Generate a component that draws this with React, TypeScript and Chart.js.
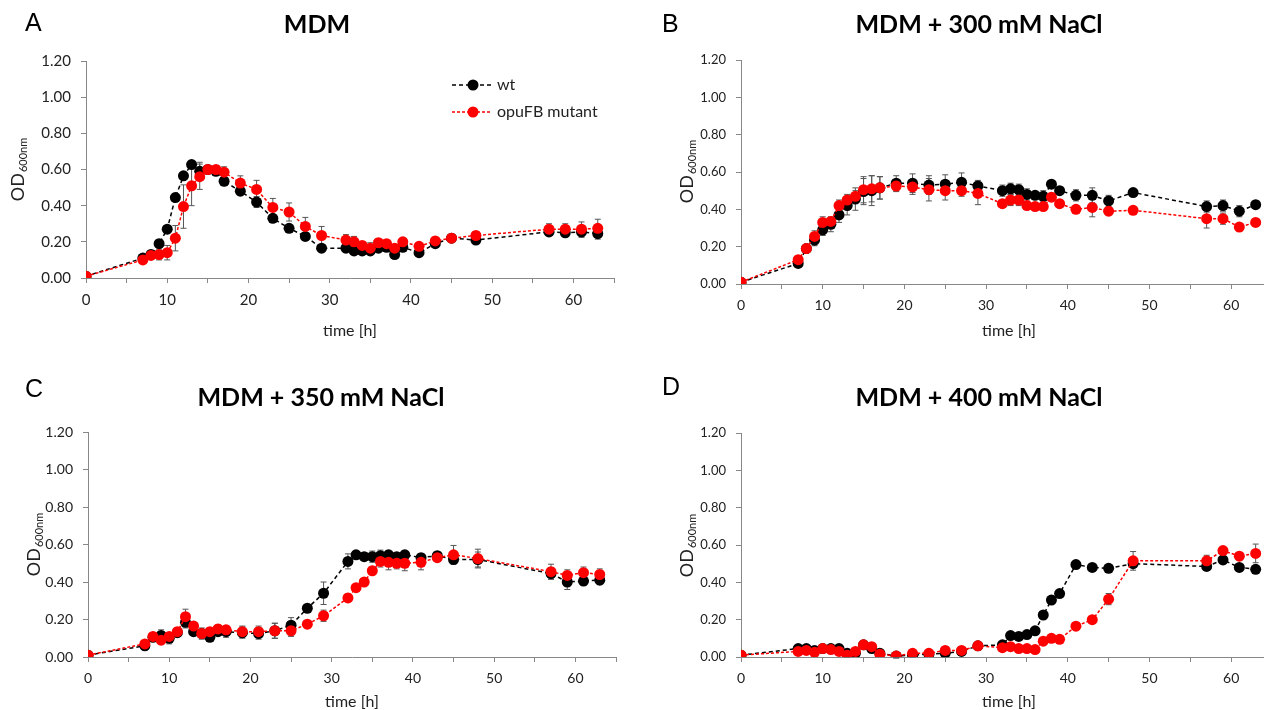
import React, { useEffect, useRef } from "react";
import { Chart, registerables } from "chart.js";
Chart.register(...registerables);

// ---------- data ----------
const times = [0, 7, 8, 9, 10, 11, 12, 13, 14, 15, 16, 17, 19, 21, 23, 25, 27, 29, 32, 33, 34, 35, 36, 37, 38, 39, 41, 43, 45, 48, 57, 59, 61, 63];

const wtA = [0.01, 0.11, 0.13, 0.19, 0.27, 0.445, 0.565, 0.627, 0.59, 0.6, 0.59, 0.535, 0.48, 0.42, 0.33, 0.275, 0.23, 0.165, 0.165, 0.15, 0.15, 0.15, 0.165, 0.17, 0.13, 0.17, 0.14, 0.19, 0.22, 0.21, 0.255, 0.25, 0.255, 0.245];
const wtAErr = [0, 0.01, 0.01, 0.02, 0.02, 0.02, 0.02, 0.02, 0.05, 0.02, 0.02, 0.02, 0.02, 0.03, 0.02, 0.02, 0.02, 0.01, 0.02, 0.02, 0.02, 0.02, 0.01, 0.02, 0.02, 0.01, 0.02, 0.02, 0.01, 0.01, 0.02, 0.02, 0.03, 0.03];
const mutA = [0.01, 0.1, 0.125, 0.13, 0.14, 0.22, 0.395, 0.51, 0.56, 0.6, 0.6, 0.585, 0.525, 0.49, 0.39, 0.365, 0.285, 0.235, 0.21, 0.2, 0.18, 0.165, 0.195, 0.19, 0.165, 0.2, 0.175, 0.205, 0.22, 0.235, 0.27, 0.27, 0.27, 0.275];
const mutAErr = [0, 0.01, 0.02, 0.03, 0.04, 0.07, 0.12, 0.11, 0.07, 0.02, 0.02, 0.03, 0.04, 0.05, 0.05, 0.05, 0.05, 0.05, 0.03, 0.03, 0.02, 0.03, 0.02, 0.02, 0.02, 0.02, 0.02, 0.02, 0.01, 0.02, 0.03, 0.03, 0.04, 0.05];

const wtB = [0.01, 0.11, 0.19, 0.235, 0.29, 0.32, 0.37, 0.42, 0.455, 0.495, 0.5, 0.515, 0.54, 0.54, 0.53, 0.535, 0.545, 0.525, 0.5, 0.51, 0.505, 0.48, 0.475, 0.47, 0.535, 0.5, 0.475, 0.475, 0.445, 0.49, 0.415, 0.42, 0.39, 0.425];
const wtBErr = [0, 0.02, 0.02, 0.03, 0.03, 0.04, 0.04, 0.05, 0.06, 0.07, 0.08, 0.06, 0.04, 0.05, 0.05, 0.05, 0.05, 0.03, 0.03, 0.03, 0.03, 0.03, 0.02, 0.03, 0.02, 0.02, 0.03, 0.04, 0.03, 0.02, 0.03, 0.03, 0.03, 0.02];
const mutB = [0.01, 0.13, 0.19, 0.255, 0.33, 0.335, 0.42, 0.45, 0.47, 0.505, 0.51, 0.515, 0.525, 0.52, 0.505, 0.5, 0.5, 0.485, 0.43, 0.45, 0.45, 0.42, 0.415, 0.415, 0.465, 0.43, 0.4, 0.41, 0.39, 0.395, 0.35, 0.35, 0.305, 0.33];
const mutBErr = [0, 0.02, 0.02, 0.03, 0.03, 0.02, 0.03, 0.03, 0.03, 0.07, 0.07, 0.06, 0.03, 0.04, 0.06, 0.05, 0.03, 0.06, 0.02, 0.03, 0.03, 0.02, 0.02, 0.02, 0.02, 0.02, 0.02, 0.05, 0.02, 0.02, 0.05, 0.03, 0.02, 0.02];

const wtC = [0.01, 0.06, 0.105, 0.115, 0.1, 0.13, 0.185, 0.135, 0.125, 0.105, 0.135, 0.135, 0.13, 0.125, 0.14, 0.17, 0.26, 0.34, 0.51, 0.545, 0.535, 0.535, 0.54, 0.545, 0.535, 0.545, 0.53, 0.54, 0.52, 0.52, 0.445, 0.4, 0.405, 0.41];
const wtCErr = [0, 0.02, 0.02, 0.03, 0.03, 0.02, 0.03, 0.02, 0.03, 0.02, 0.02, 0.03, 0.03, 0.03, 0.04, 0.04, 0.02, 0.06, 0.04, 0.02, 0.02, 0.03, 0.03, 0.02, 0.02, 0.02, 0.02, 0.02, 0.02, 0.04, 0.03, 0.04, 0.02, 0.02];
const mutC = [0.01, 0.07, 0.11, 0.09, 0.11, 0.135, 0.215, 0.165, 0.125, 0.135, 0.15, 0.145, 0.135, 0.135, 0.14, 0.14, 0.175, 0.22, 0.315, 0.37, 0.4, 0.46, 0.51, 0.505, 0.5, 0.5, 0.505, 0.53, 0.545, 0.525, 0.455, 0.435, 0.45, 0.44];
const mutCErr = [0, 0.01, 0.02, 0.02, 0.02, 0.02, 0.04, 0.02, 0.02, 0.02, 0.02, 0.02, 0.03, 0.03, 0.04, 0.03, 0.02, 0.03, 0.02, 0.01, 0.01, 0.02, 0.03, 0.04, 0.03, 0.04, 0.04, 0.02, 0.05, 0.05, 0.04, 0.03, 0.03, 0.03];

const wtD = [0.01, 0.045, 0.045, 0.035, 0.045, 0.045, 0.045, 0.02, 0.02, 0.065, 0.045, 0.02, 0.005, 0.01, 0.015, 0.02, 0.03, 0.06, 0.065, 0.115, 0.11, 0.12, 0.14, 0.225, 0.305, 0.34, 0.495, 0.48, 0.475, 0.5, 0.485, 0.52, 0.48, 0.47];
const wtDErr = [0, 0.01, 0.01, 0.01, 0.01, 0.01, 0.01, 0.01, 0.01, 0.01, 0.01, 0.01, 0.01, 0.01, 0.01, 0.02, 0.01, 0.01, 0.01, 0.01, 0.01, 0.01, 0.01, 0.01, 0.01, 0.01, 0.02, 0.01, 0.01, 0.02, 0.02, 0.02, 0.01, 0.01];
const mutD = [0.01, 0.03, 0.035, 0.025, 0.045, 0.04, 0.03, 0.01, 0.03, 0.065, 0.055, 0.015, 0.005, 0.02, 0.02, 0.035, 0.035, 0.06, 0.05, 0.055, 0.045, 0.045, 0.04, 0.085, 0.1, 0.095, 0.165, 0.2, 0.31, 0.515, 0.515, 0.57, 0.54, 0.555];
const mutDErr = [0, 0.01, 0.01, 0.01, 0.01, 0.01, 0.01, 0.01, 0.01, 0.01, 0.01, 0.01, 0.01, 0.01, 0.01, 0.01, 0.01, 0.01, 0.01, 0.01, 0.01, 0.01, 0.01, 0.01, 0.01, 0.01, 0.01, 0.01, 0.03, 0.05, 0.03, 0.02, 0.02, 0.05];

const yTickLabels = ["0.00", "0.20", "0.40", "0.60", "0.80", "1.00", "1.20"];
const xTickLabels = ["0", "10", "20", "30", "40", "50", "60"];
const seriesNames = ["wt", "opuFB mutant"];
const panelLetters = ["A", "B", "C", "D"];
const panelTitles = ["MDM", "MDM + 300 mM NaCl", "MDM + 350 mM NaCl", "MDM + 400 mM NaCl"];
const xTitle = "time [h]";

// ---------- layout ----------
const FONT = "Lato, 'Open Sans', sans-serif";
const panels = [
  { left: 0, top: 0, w: 640, h: 355, aL: 86, aR: 614, aT: 61, aB: 278, yFont: 15, xFont: 15, titleX: 317, titleY: 25, letterX: 25, letterY: 24, odX: 18, odY: 170, tX: 350, tY: 331, legend: true,
    wt: wtA, wtErr: wtAErr, mut: mutA, mutErr: mutAErr },
  { left: 640, top: 0, w: 640, h: 355, aL: 101, aR: 639, aT: 60, aB: 284, yFont: 13, xFont: 14, titleX: 339, titleY: 25, letterX: 22, letterY: 25, odX: 47, odY: 172, tX: 369, tY: 331, legend: false,
    wt: wtB, wtErr: wtBErr, mut: mutB, mutErr: mutBErr },
  { left: 0, top: 355, w: 640, h: 355, aL: 88, aR: 616, aT: 77, aB: 302, yFont: 14, xFont: 14, titleX: 321, titleY: 43, letterX: 25, letterY: 35, odX: 34, odY: 190, tX: 352, tY: 347, legend: false,
    wt: wtC, wtErr: wtCErr, mut: mutC, mutErr: mutCErr },
  { left: 640, top: 355, w: 640, h: 355, aL: 101, aR: 639, aT: 78, aB: 302, yFont: 13, xFont: 14, titleX: 339, titleY: 43, letterX: 22, letterY: 33, odX: 47, odY: 191, tX: 369, tY: 347, legend: false,
    wt: wtD, wtErr: wtDErr, mut: mutD, mutErr: mutDErr },
];

function Panel({ cfg, idx }: { cfg: any; idx: number }) {
  const ref = useRef<HTMLCanvasElement>(null);
  useEffect(() => {
    if (!ref.current) return;
    const errs = [cfg.wtErr, cfg.mutErr];
    const plugin = {
      id: "decor" + idx,
      beforeDatasetsDraw(chart: any) {
        const ctx = chart.ctx;
        const ys = chart.scales.y;
        ctx.save();
        ctx.strokeStyle = "#555";
        ctx.lineWidth = 1;
        chart.data.datasets.forEach((ds: any, di: number) => {
          const meta = chart.getDatasetMeta(di);
          ds.data.forEach((p: any, j: number) => {
            const e = errs[di][j];
            if (!e) return;
            const x = meta.data[j].x;
            const y1 = ys.getPixelForValue(p.y + e);
            const y2 = ys.getPixelForValue(p.y - e);
            ctx.beginPath();
            ctx.moveTo(x, y1); ctx.lineTo(x, y2);
            ctx.moveTo(x - 3, y1); ctx.lineTo(x + 3, y1);
            ctx.moveTo(x - 3, y2); ctx.lineTo(x + 3, y2);
            ctx.stroke();
          });
        });
        ctx.restore();
      },
      afterDraw(chart: any) {
        const ctx = chart.ctx;
        ctx.save();
        ctx.fillStyle = "#000";
        ctx.font = "25px 'Liberation Sans', Arial, sans-serif";
        ctx.textAlign = "left";
        ctx.textBaseline = "middle";
        ctx.fillText(panelLetters[idx], cfg.letterX, cfg.letterY);
        ctx.font = `bold 25px ${FONT}`;
        ctx.textAlign = "center";
        ctx.fillText(panelTitles[idx], cfg.titleX, cfg.titleY);
        ctx.font = `16px ${FONT}`;
        ctx.fillStyle = "#222";
        ctx.fillText(xTitle, cfg.tX, cfg.tY);
        ctx.translate(cfg.odX, cfg.odY);
        ctx.rotate(-Math.PI / 2);
        ctx.textAlign = "left";
        ctx.textBaseline = "alphabetic";
        const mainF = `18px ${FONT}`;
        const subF = `11px ${FONT}`;
        ctx.font = mainF;
        const w1 = ctx.measureText("OD").width;
        ctx.font = subF;
        const w2 = ctx.measureText("600nm").width;
        const x0 = -(w1 + w2) / 2;
        ctx.font = mainF;
        ctx.fillText("OD", x0, 6);
        ctx.font = subF;
        ctx.fillText("600nm", x0 + w1 + 1, 9);
        ctx.restore();

        if (cfg.legend) {
          ctx.save();
          const items = [
            { y: 85, color: "#000", dash: [4, 3] },
            { y: 112, color: "#ff0000", dash: [3, 2] },
          ];
          items.forEach((it, k) => {
            ctx.strokeStyle = it.color;
            ctx.lineWidth = 1.5;
            ctx.setLineDash(it.dash);
            ctx.beginPath();
            ctx.moveTo(452, it.y);
            ctx.lineTo(492, it.y);
            ctx.stroke();
            ctx.setLineDash([]);
            ctx.fillStyle = it.color;
            ctx.beginPath();
            ctx.arc(473, it.y, 5.5, 0, Math.PI * 2);
            ctx.fill();
            ctx.fillStyle = "#222";
            ctx.font = `16px ${FONT}`;
            ctx.textAlign = "left";
            ctx.textBaseline = "middle";
            ctx.fillText(seriesNames[k], 497, it.y);
          });
          ctx.restore();
        }
      },
    };

    const chart = new Chart(ref.current, {
      type: "line",
      data: {
        datasets: [
          {
            label: seriesNames[0],
            data: times.map((t, i) => ({ x: t, y: cfg.wt[i] })),
            borderColor: "#000",
            backgroundColor: "#000",
            borderWidth: 1.5,
            borderDash: [4, 3],
            pointRadius: 5.5,
            pointBorderWidth: 0,
            pointBackgroundColor: "#000",
            tension: 0,
            order: 1,
          },
          {
            label: seriesNames[1],
            data: times.map((t, i) => ({ x: t, y: cfg.mut[i] })),
            borderColor: "#ff0000",
            backgroundColor: "#ff0000",
            borderWidth: 1.5,
            borderDash: [3, 2],
            pointRadius: 5.5,
            pointBorderWidth: 0,
            pointBackgroundColor: "#ff0000",
            tension: 0,
            order: 0,
          },
        ],
      },
      options: {
        animation: false,
        responsive: false,
        devicePixelRatio: 1,
        layout: { padding: { top: cfg.aT, right: cfg.w - cfg.aR, left: 0, bottom: 0 } },
        plugins: { legend: { display: false }, tooltip: { enabled: false }, title: { display: false } },
        scales: {
          x: {
            type: "linear",
            min: 0,
            max: 65,
            afterFit: (s: any) => { s.height = cfg.h - cfg.aB; },
            ticks: {
              stepSize: 5,
              autoSkip: false,
              maxRotation: 0,
              padding: 8,
              color: "#222",
              font: { family: FONT, size: cfg.xFont },
              callback: (v: any) => (v % 10 === 0 ? xTickLabels[v / 10] : ""),
            },
            grid: { drawOnChartArea: false, drawTicks: true, tickLength: 5, color: "#888" },
            border: { display: true, color: "#888", width: 1 },
          },
          y: {
            type: "linear",
            min: 0,
            max: 1.2,
            afterFit: (s: any) => { s.width = cfg.aL; },
            ticks: {
              stepSize: 0.2,
              padding: 10,
              color: "#222",
              font: { family: FONT, size: cfg.yFont },
              callback: (v: any, i: number) => yTickLabels[i],
            },
            grid: { drawOnChartArea: false, drawTicks: true, tickLength: 5, color: "#888" },
            border: { display: true, color: "#888", width: 1 },
          },
        },
      },
      plugins: [plugin],
    } as any);
    return () => chart.destroy();
  }, [cfg, idx]);

  return (
    <canvas
      ref={ref}
      width={cfg.w}
      height={cfg.h}
      style={{ position: "absolute", left: cfg.left, top: cfg.top, width: cfg.w, height: cfg.h }}
    />
  );
}

export default function App() {
  return (
    <div style={{ position: "fixed", left: 0, top: 0, width: 1264, height: 710, overflow: "hidden", background: "#fff" }}>
      {panels.map((p, i) => (
        <Panel key={i} cfg={p} idx={i} />
      ))}
    </div>
  );
}
